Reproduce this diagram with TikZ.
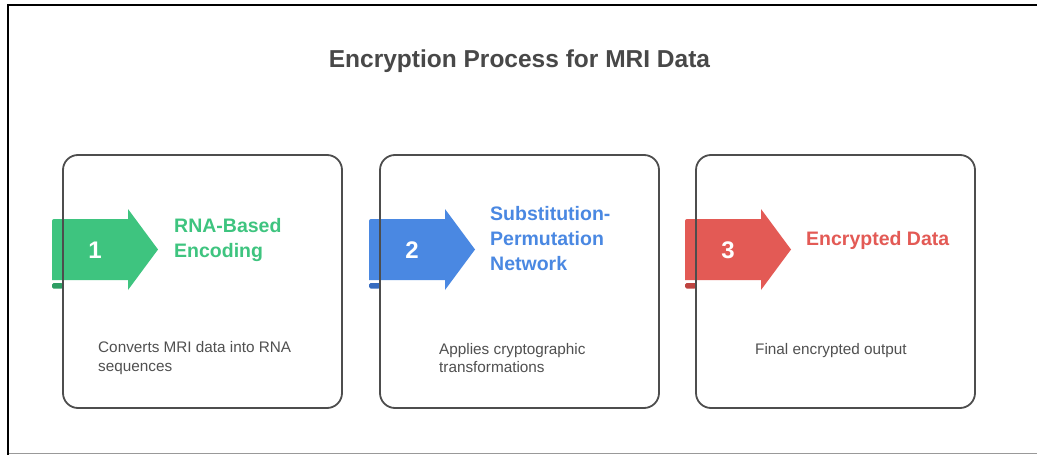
\documentclass[tikz,border=0pt]{standalone}
\usepackage{fontspec}
\setmainfont{Liberation Sans}
\definecolor{cgreen}{HTML}{3EC47F}
\definecolor{cgreenD}{HTML}{2E9E64}
\definecolor{cblue}{HTML}{4A88E2}
\definecolor{cblueD}{HTML}{376CC0}
\definecolor{cred}{HTML}{E35A55}
\definecolor{credD}{HTML}{BE4440}
\definecolor{ctext}{HTML}{484848}
\definecolor{cdesc}{HTML}{505050}
\definecolor{cborder}{HTML}{4D4D4D}
\begin{document}
\begin{tikzpicture}[x=1pt,y=-1pt,
  card/.style={draw=cborder, line width=1.8pt, rounded corners=15pt,
    minimum width=279pt, minimum height=253pt, inner sep=0pt},
  numtxt/.style={text=white, font=\bfseries\fontsize{24}{28}\selectfont, inner sep=0pt},
  steptitle/.style={anchor=west, align=left, inner sep=0pt,
    font=\bfseries\fontsize{19.5}{25}\selectfont},
  desctxt/.style={anchor=west, align=left, inner sep=0pt, text=cdesc,
    font=\fontsize{15.3}{18.5}\selectfont},
  frameline/.style={line width=2pt, black},
]
\useasboundingbox (0,0) rectangle (1037,455);
\fill[white] (0,0) rectangle (1037,455);
% outer frame
\coordinate (fTR) at (1037,5);
\coordinate (fTL) at (7.5,5);
\coordinate (fBL) at (7.5,455);
\coordinate (gL) at (7.5,453.5);
\coordinate (gR) at (1037,453.5);
\draw[line width=1.5pt, black!40] (gL) -- (gR);
\draw[frameline] (fTR) -- (fTL) -- (fBL);

\node[font=\bfseries\fontsize{24.5}{28}\selectfont, text=ctext] (title) at (519.5,61) {Encryption Process for MRI Data};

\foreach \i/\L/\col/\dcol in {1/63/cgreen/cgreenD, 2/380/cblue/cblueD, 3/696/cred/credD}{
  \fill[\col] (\L-11,280) -- (\L-11,221) to[out=90,in=180] (\L-9,219) -- (\L+65,219) -- (\L+65,209)
     -- (\L+95,249.5) -- (\L+65,290) -- (\L+65,280) -- cycle;
  \fill[\dcol, rounded corners=1.5pt] (\L-11,283) rectangle (\L,288.5);
  \node[numtxt] (num\i) at (\L+32,250) {\i};
  \node[card] (card\i) at (\L+139.5,281.5) {};
}

\node[steptitle, text=cgreen] (t1) at (174,240) {RNA-Based\\Encoding};
\node[steptitle, text=cblue] (t2) at (490,239) {Substitution-\\Permutation\\Network};
\node[steptitle, text=cred] (t3) at (806,240) {Encrypted Data};

\node[desctxt] (d1) at (98,358) {Converts MRI data into RNA\\sequences};
\node[desctxt] (d2) at (439,358) {Applies cryptographic\\transformations};
\node[desctxt] (d3) at (755,351) {Final encrypted output};
\end{tikzpicture}
\end{document}
